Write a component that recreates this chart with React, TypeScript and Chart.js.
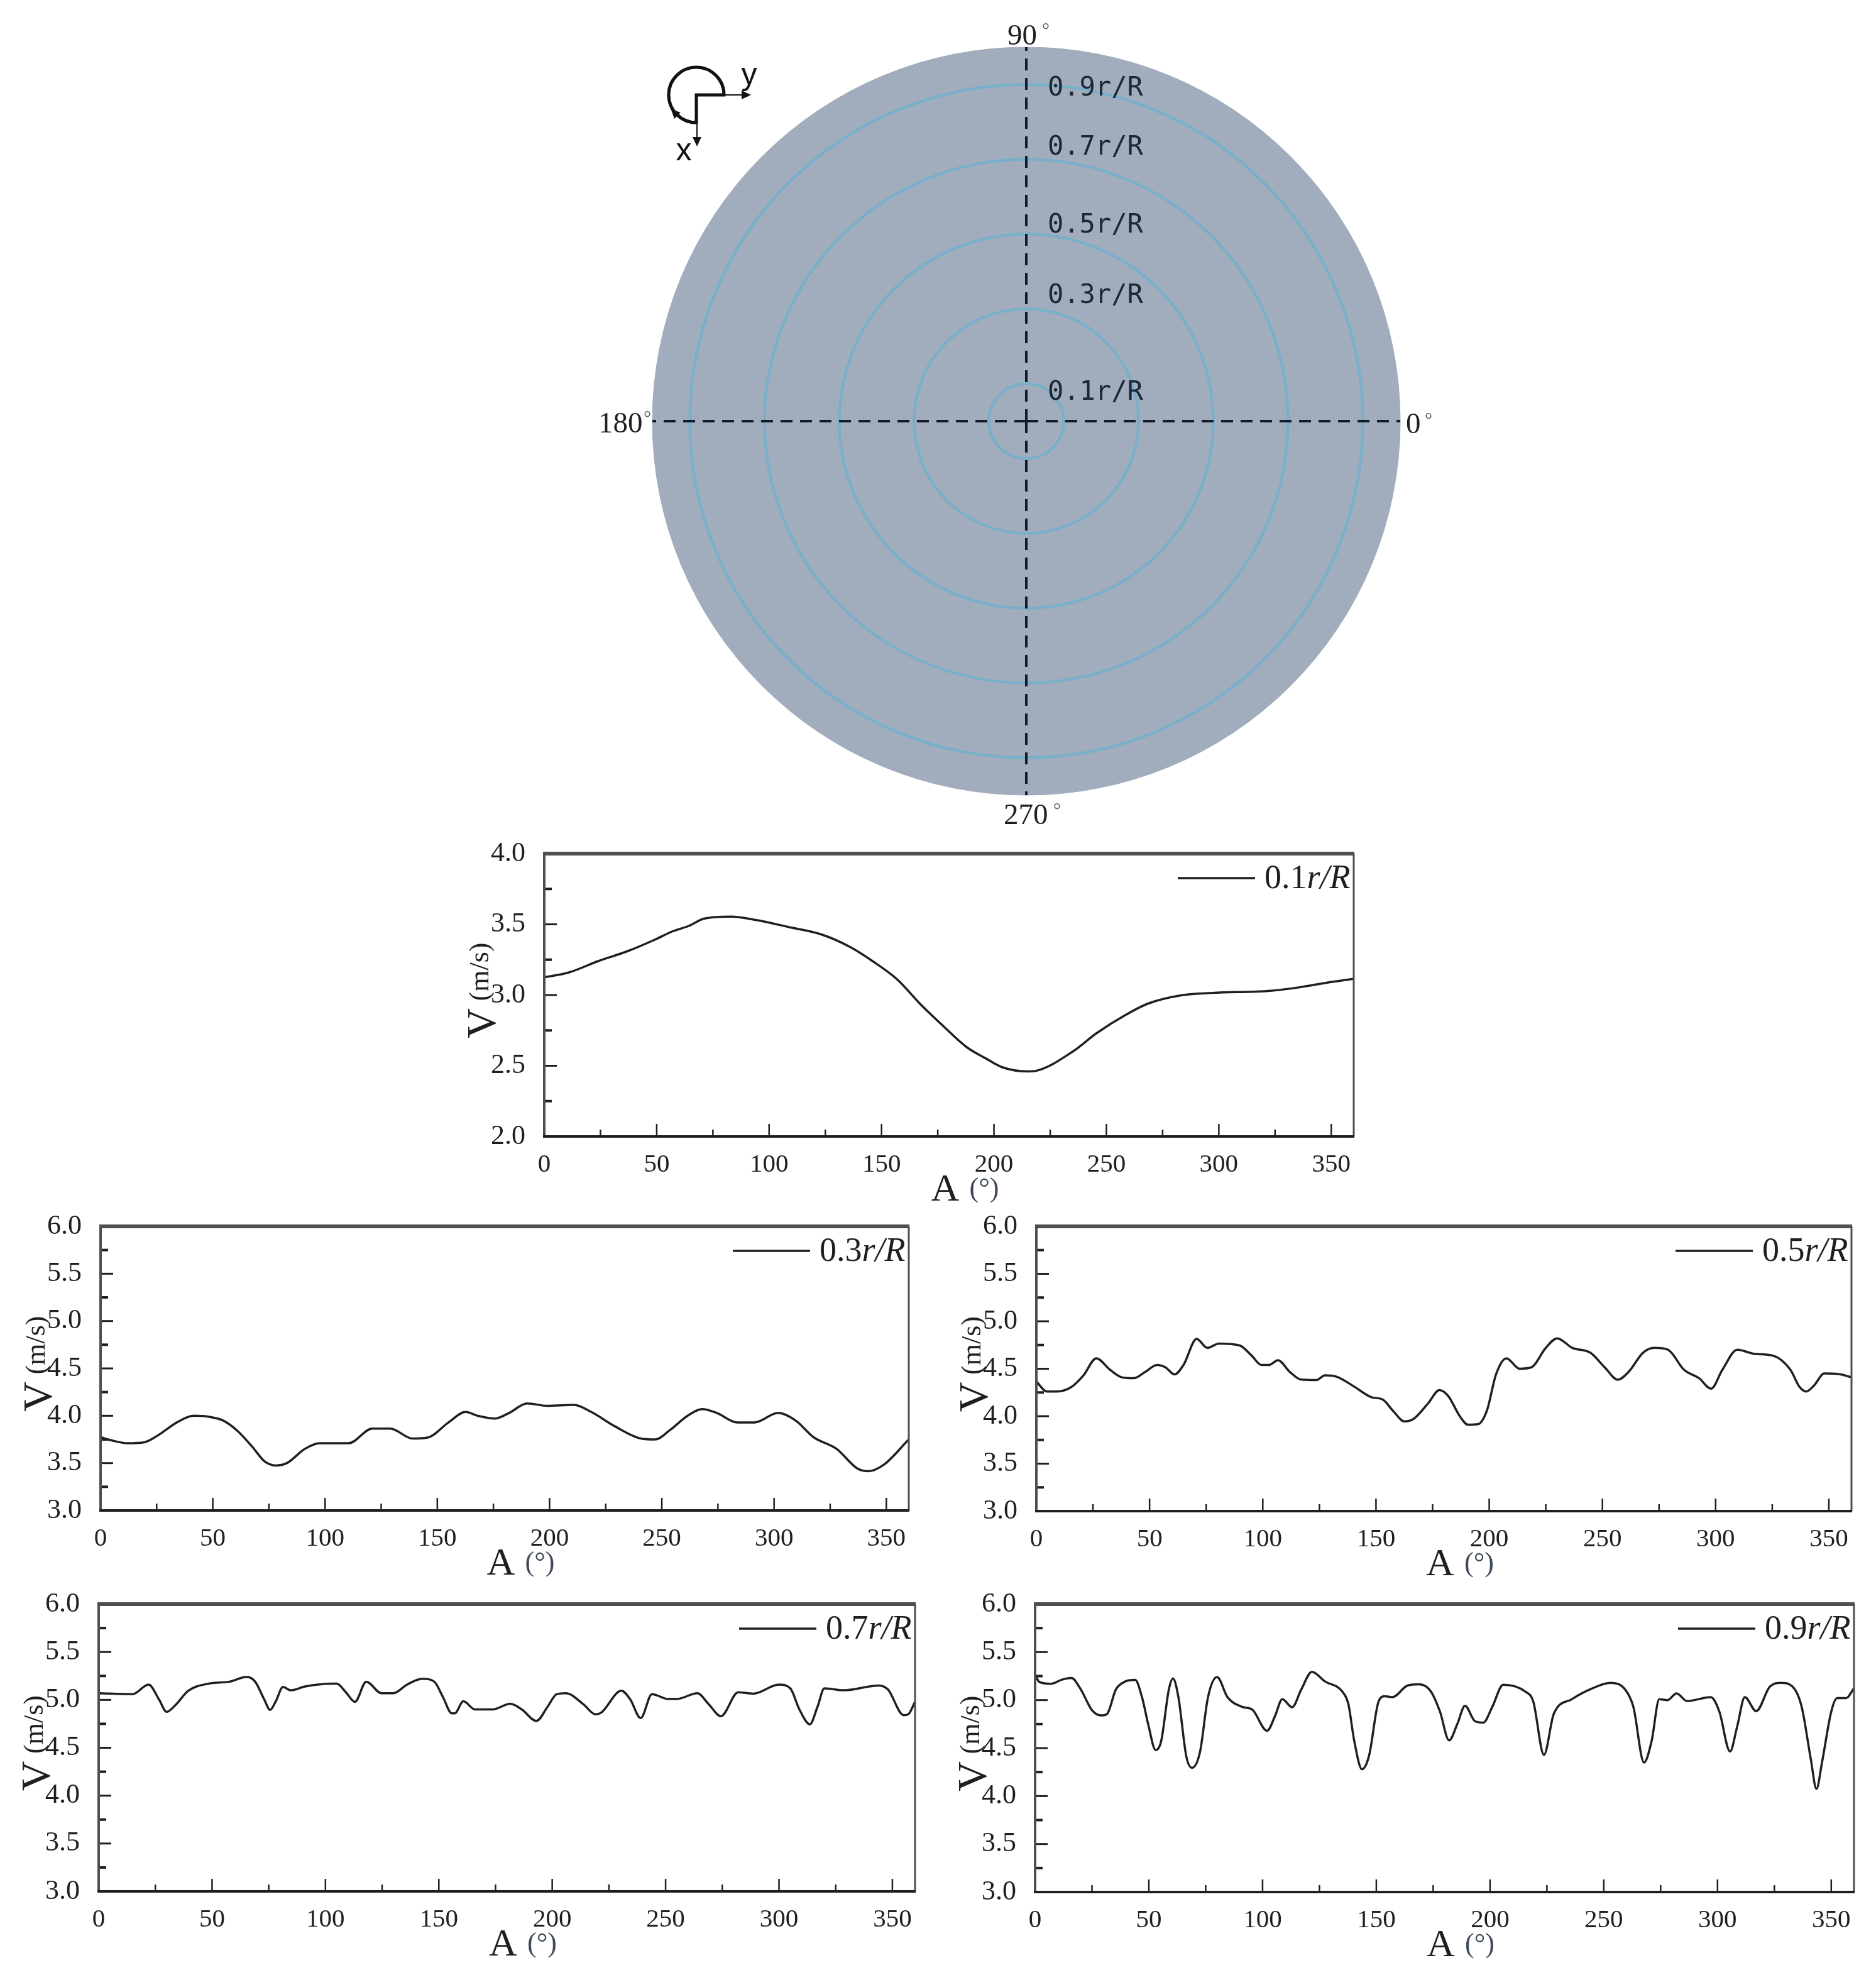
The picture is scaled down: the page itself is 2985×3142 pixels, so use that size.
import Chart from 'chart.js/auto'
import { useEffect, useRef } from 'react'

const SERIF = '"Liberation Serif"'
const INK = '#1f1f1f'
const FRAME = '#4f4f4f'

const ringRadii = [0.1, 0.3, 0.5, 0.7, 0.9]
const ringNames = ['0.1r/R', '0.3r/R', '0.5r/R', '0.7r/R', '0.9r/R']
const compassLabels = ['90°', '0°', '270°', '180°']
const discSlices = [1, 1, 1, 1]

const xTicks = [0, 50, 100, 150, 200, 250, 300, 350]
const xMinorTicks = [25, 75, 125, 175, 225, 275, 325]
const yTicksLow = [2, 2.5, 3, 3.5, 4]
const yMinorLow = [2.25, 2.75, 3.25, 3.75]
const yTicksHigh = [3, 3.5, 4, 4.5, 5, 5.5, 6]
const yMinorHigh = [3.25, 3.75, 4.25, 4.75, 5.25, 5.75]

const angles01 = [0, 11, 24, 37, 49, 57, 64.5, 71, 83, 94.4, 109, 123, 136, 146, 157, 167, 177.5, 188, 196, 203.6, 215, 219, 235, 245.6, 258.6, 268.6, 284, 297, 323, 336, 349, 360]
const speed01 = [3.125, 3.16, 3.24, 3.31, 3.39, 3.45, 3.49, 3.54, 3.555, 3.53, 3.48, 3.43, 3.34, 3.24, 3.11, 2.94, 2.78, 2.63, 2.555, 2.49, 2.46, 2.465, 2.6, 2.73, 2.86, 2.94, 3, 3.015, 3.03, 3.055, 3.09, 3.115]

const angles03 = [0, 5, 12, 19.5, 26, 34, 41.6, 48, 54.6, 61, 67.7, 73, 78, 83, 91, 97.6, 110.6, 121, 129, 139, 145.7, 155, 162.6, 168, 175.6, 182, 190, 199, 210.8, 218.6, 229, 240.7, 247, 253.7, 261.5, 268, 274.5, 283.6, 291.4, 301.8, 309.6, 317.5, 327.9, 337, 342, 348.7, 360]
const speed03 = [3.775, 3.74, 3.71, 3.72, 3.8, 3.93, 4, 3.99, 3.95, 3.84, 3.67, 3.52, 3.475, 3.5, 3.65, 3.71, 3.71, 3.865, 3.865, 3.76, 3.77, 3.93, 4.04, 4, 3.97, 4.03, 4.13, 4.105, 4.115, 4.04, 3.89, 3.76, 3.75, 3.85, 4, 4.07, 4.03, 3.93, 3.93, 4.03, 3.95, 3.775, 3.65, 3.445, 3.415, 3.48, 3.75]

const angles05 = [0, 4.7, 9, 15.6, 20.8, 26.5, 32.5, 37.7, 43, 48, 53.3, 57, 61, 65, 70.8, 75.5, 80.7, 89.8, 95, 99.4, 102.8, 106.7, 112, 117, 123.6, 127.5, 132.7, 140.5, 148, 153, 157.4, 162.6, 166.5, 173, 178, 182, 187, 190.7, 195, 199, 203, 207.6, 213.4, 218.6, 225, 230, 236.7, 244.6, 251, 256.8, 261.5, 268, 273, 279, 286, 292.7, 298, 303, 309.6, 317.5, 325, 333, 337, 340, 343.5, 348, 354, 360]
const speed05 = [4.365, 4.26, 4.26, 4.31, 4.43, 4.61, 4.49, 4.41, 4.4, 4.465, 4.54, 4.515, 4.44, 4.54, 4.815, 4.72, 4.765, 4.745, 4.64, 4.54, 4.54, 4.59, 4.465, 4.385, 4.38, 4.43, 4.415, 4.31, 4.2, 4.175, 4.06, 3.945, 3.97, 4.135, 4.275, 4.21, 4, 3.91, 3.915, 4.06, 4.44, 4.61, 4.5, 4.515, 4.72, 4.82, 4.72, 4.67, 4.515, 4.385, 4.465, 4.67, 4.72, 4.7, 4.49, 4.4, 4.29, 4.49, 4.7, 4.655, 4.64, 4.49, 4.31, 4.26, 4.325, 4.45, 4.445, 4.41]

const angles07 = [0, 15, 22, 26.6, 30, 34, 39.5, 48.5, 57.6, 65.3, 69, 73, 75.6, 78, 81.3, 84.7, 91, 102.7, 105, 109, 113, 118, 124.7, 130, 136, 142.7, 148, 151.8, 155.7, 157, 160.8, 166, 173.7, 181.5, 186.6, 193, 198, 202, 206, 213.7, 219, 221.5, 230.5, 234.4, 239, 244, 251, 255, 264, 269, 274.4, 282, 288.6, 300, 305, 309, 313.6, 317, 320, 328.6, 344, 348, 355, 357, 360]
const speed07 = [5.07, 5.06, 5.16, 5.005, 4.875, 4.95, 5.095, 5.17, 5.19, 5.24, 5.19, 5.005, 4.895, 4.98, 5.135, 5.1, 5.14, 5.17, 5.17, 5.08, 4.98, 5.19, 5.07, 5.07, 5.16, 5.22, 5.19, 5.03, 4.86, 4.86, 4.985, 4.9, 4.9, 4.96, 4.9, 4.78, 4.93, 5.06, 5.07, 4.955, 4.85, 4.865, 5.095, 5.005, 4.81, 5.06, 5.01, 5.01, 5.07, 4.955, 4.83, 5.08, 5.065, 5.16, 5.12, 4.9, 4.745, 4.93, 5.12, 5.1, 5.15, 5.11, 4.84, 4.85, 4.98]

const angles09 = [0, 1.8, 7, 12, 16, 20, 25, 29, 31.6, 35.5, 39.3, 44, 47, 49.7, 53, 55.4, 58.8, 60.6, 63, 66.5, 69, 72.5, 76, 80, 84.6, 91, 95.5, 102, 105.4, 108.7, 113, 117, 121.7, 127.4, 135, 137.7, 140.3, 143.7, 146.8, 151, 153.8, 157, 163.6, 168.8, 174, 178, 182, 185.6, 189, 193.4, 197, 201, 205.8, 215.4, 219, 223.7, 228, 236, 243.8, 253, 259.4, 263, 267.7, 271, 274.4, 278, 282, 286.6, 297, 300.8, 305.5, 308.6, 312, 317, 323, 328, 333, 337, 341, 343.5, 346, 350, 352.6, 356.5, 360]
const speed09 = [5.27, 5.19, 5.17, 5.215, 5.23, 5.115, 4.895, 4.84, 4.855, 5.11, 5.19, 5.21, 5.03, 4.75, 4.48, 4.57, 5.11, 5.225, 5.03, 4.41, 4.295, 4.46, 5.03, 5.24, 5.03, 4.93, 4.9, 4.68, 4.83, 5.01, 4.925, 5.11, 5.295, 5.195, 5.09, 4.96, 4.575, 4.28, 4.42, 4.985, 5.04, 5.03, 5.15, 5.165, 5.09, 4.88, 4.58, 4.75, 4.94, 4.78, 4.765, 4.93, 5.16, 5.09, 4.985, 4.43, 4.855, 5.01, 5.11, 5.18, 5.11, 4.93, 4.35, 4.57, 5.01, 5, 5.07, 4.99, 5.03, 4.88, 4.465, 4.72, 5.03, 4.885, 5.14, 5.18, 5.14, 4.93, 4.385, 4.075, 4.36, 4.88, 5.02, 5.02, 5.125]

type PanelProps = {
  name: string
  left: number
  top: number
  right: number
  bottom: number
  angles: number[]
  speed: number[]
  yMin: number
  yMax: number
  yTicks: number[]
  yMinor: number[]
}

const PAD_LEFT = 150
const PAD_RIGHT = 30
const PAD_TOP = 30
const PAD_BOTTOM = 125

const LinePanel = ({ name, left, top, right, bottom, angles, speed, yMin, yMax, yTicks, yMinor }: PanelProps): JSX.Element => {
  const canvas = useRef<HTMLCanvasElement | null>(null)

  useEffect(() => {
    if (!canvas.current) return

    const decor = {
      id: 'decor',
      afterDatasetsDraw(chart: Chart) {
        const { ctx, chartArea: a, scales } = chart
        ctx.save()
        ctx.strokeStyle = INK

        // ticks point inwards
        const tick = (x1: number, y1: number, x2: number, y2: number, w: number) => {
          ctx.lineWidth = w
          ctx.beginPath()
          ctx.moveTo(x1, y1)
          ctx.lineTo(x2, y2)
          ctx.stroke()
        }
        xTicks.forEach((v) => tick(scales.x.getPixelForValue(v), a.bottom, scales.x.getPixelForValue(v), a.bottom - 20, 2.5))
        xMinorTicks.forEach((v) => tick(scales.x.getPixelForValue(v), a.bottom, scales.x.getPixelForValue(v), a.bottom - 11, 2.5))
        yTicks.forEach((v) => tick(a.left, scales.y.getPixelForValue(v), a.left + 20, scales.y.getPixelForValue(v), 3))
        yMinor.forEach((v) => tick(a.left, scales.y.getPixelForValue(v), a.left + 12, scales.y.getPixelForValue(v), 4))

        // frame, the top edge is heavier in the source
        ctx.strokeStyle = FRAME
        tick(a.left, a.top, a.left, a.bottom, 4)
        tick(a.right, a.top, a.right, a.bottom, 3)
        tick(a.left - 2, a.top, a.right + 1, a.top, 6)
        ctx.strokeStyle = INK
        tick(a.left - 2, a.bottom, a.right + 1, a.bottom, 4)

        // legend
        tick(a.right - 280, a.top + 39, a.right - 157, a.top + 39, 3.5)
        ctx.fillStyle = INK
        ctx.textBaseline = 'middle'
        ctx.textAlign = 'left'
        const value = name.slice(0, 3)
        ctx.font = `54px ${SERIF}`
        const lx = a.right - 142
        ctx.fillText(value, lx, a.top + 41)
        const vw = ctx.measureText(value).width
        ctx.font = `italic 54px ${SERIF}`
        ctx.fillText(name.slice(3), lx + vw, a.top + 41)

        // axis titles
        const cx = (a.left + a.right) / 2
        ctx.textAlign = 'center'
        ctx.font = `62px ${SERIF}`
        ctx.fillText('A', cx - 6, a.bottom + 86)
        ctx.fillStyle = '#3f4a58'
        ctx.font = `44px ${SERIF}`
        ctx.fillText('(°)', cx + 56, a.bottom + 84)

        ctx.fillStyle = INK
        const cy = (a.top + a.bottom) / 2
        ctx.translate(a.left - 95, cy + 45)
        ctx.rotate(-Math.PI / 2)
        ctx.font = `66px ${SERIF}`
        ctx.fillText('V', 0, 0)
        ctx.font = `44px ${SERIF}`
        ctx.fillText('(m/s)', 82, -6)
        ctx.restore()
      },
    }

    const chart = new Chart(canvas.current, {
      type: 'scatter',
      data: {
        datasets: [
          {
            label: name,
            data: angles.map((a, i) => ({ x: a, y: speed[i] })),
            showLine: true,
            borderColor: INK,
            borderWidth: 3.5,
            pointRadius: 0,
            cubicInterpolationMode: 'monotone',
          },
        ],
      },
      options: {
        animation: false,
        responsive: false,
        devicePixelRatio: 1,
        layout: { padding: { top: PAD_TOP, right: PAD_RIGHT } },
        plugins: { legend: { display: false }, tooltip: { enabled: false } },
        scales: {
          x: {
            type: 'linear',
            min: 0,
            max: 360,
            grid: { display: false },
            border: { display: false },
            afterFit: (s) => {
              s.height = PAD_BOTTOM
              s.paddingLeft = 0
              s.paddingRight = 0
            },
            afterBuildTicks: (s) => {
              s.ticks = xTicks.map((value) => ({ value }))
            },
            ticks: {
              autoSkip: false,
              maxRotation: 0,
              padding: 13,
              color: INK,
              font: { family: SERIF, size: 41 },
              callback: (v) => String(v),
            },
          },
          y: {
            type: 'linear',
            min: yMin,
            max: yMax,
            grid: { display: false },
            border: { display: false },
            afterFit: (s) => {
              s.width = PAD_LEFT
              s.paddingTop = 0
              s.paddingBottom = 0
            },
            afterBuildTicks: (s) => {
              s.ticks = yTicks.map((value) => ({ value }))
            },
            ticks: {
              autoSkip: false,
              padding: 22,
              color: INK,
              font: { family: SERIF, size: 44 },
              callback: (v) => Number(v).toFixed(1),
            },
          },
        },
      },
      plugins: [decor],
    })

    return () => {
      chart.destroy()
    }
  }, [])

  return (
    <canvas
      ref={canvas}
      width={right - left + PAD_LEFT + PAD_RIGHT}
      height={bottom - top + PAD_TOP + PAD_BOTTOM}
      style={{ position: 'absolute', left: left - PAD_LEFT, top: top - PAD_TOP }}
    />
  )
}

const POLAR_X = 940
const POLAR_W = 1400
const POLAR_H = 1340

const PolarPanel = (): JSX.Element => {
  const canvas = useRef<HTMLCanvasElement | null>(null)

  useEffect(() => {
    if (!canvas.current) return

    const decor = {
      id: 'decor',
      afterDraw(chart: Chart) {
        const { ctx } = chart
        ctx.save()
        ctx.textBaseline = 'middle'

        // ring names sit just right of the vertical line
        const ringLabelY = [625, 471, 359, 235, 141]
        ctx.fillStyle = '#1c2733'
        ctx.font = '42px "DejaVu Sans Mono"'
        ctx.textAlign = 'left'
        ringNames.forEach((t, i) => ctx.fillText(t, 1667 - POLAR_X, ringLabelY[i]))

        // compass labels, the degree sign is small and set apart
        const compass = (t: string, x: number, y: number, dx: number, dy: number) => {
          ctx.fillStyle = INK
          ctx.font = `47px ${SERIF}`
          ctx.fillText(t.slice(0, -1), x - POLAR_X, y)
          ctx.fillStyle = '#55585c'
          ctx.font = `30px ${SERIF}`
          ctx.fillText(t.slice(-1), x - POLAR_X + dx, y + dy)
        }
        compass(compassLabels[0], 1603, 59, 55, -10)
        compass(compassLabels[1], 2237, 677, 30, -8)
        compass(compassLabels[2], 1597, 1299, 79, -9)
        compass(compassLabels[3], 952, 676, 72, -10)

        // rotation sign in the corner
        const ox = 1108 - POLAR_X
        const oy = 151
        ctx.strokeStyle = '#111'
        ctx.fillStyle = '#111'
        ctx.lineWidth = 5
        ctx.beginPath()
        ctx.arc(ox, oy, 44, 0, Math.PI / 2, true)
        ctx.lineTo(ox, oy)
        ctx.closePath()
        ctx.stroke()
        ctx.lineWidth = 2
        ctx.beginPath()
        ctx.moveTo(ox + 44, oy)
        ctx.lineTo(ox + 75, oy)
        ctx.moveTo(ox + 1, oy + 44)
        ctx.lineTo(ox + 1, oy + 68)
        ctx.stroke()
        const arrow = (x: number, y: number, dx: number, dy: number) => {
          ctx.beginPath()
          ctx.moveTo(x + dx * 15, y + dy * 15)
          ctx.lineTo(x - dy * 7, y + dx * 7)
          ctx.lineTo(x + dy * 7, y - dx * 7)
          ctx.closePath()
          ctx.fill()
        }
        arrow(ox + 72, oy, 1, 0)
        arrow(ox + 1, oy + 67, 0, 1)
        arrow(ox - 30, oy + 33, -0.7, -0.7)
        ctx.textAlign = 'center'
        ctx.font = '50px "Liberation Sans"'
        ctx.fillText('y', ox + 84, oy - 30)
        ctx.fillText('x', ox - 20, oy + 90)
        ctx.restore()
      },
    }

    const chart = new Chart(canvas.current, {
      type: 'polarArea',
      data: {
        labels: compassLabels,
        datasets: [
          {
            data: discSlices,
            backgroundColor: '#a1acbc',
            borderColor: '#a1acbc',
            borderWidth: 1,
          },
        ],
      },
      options: {
        animation: false,
        responsive: false,
        devicePixelRatio: 1,
        layout: { padding: { left: 98, right: 111, top: 75, bottom: 74 } },
        plugins: { legend: { display: false }, tooltip: { enabled: false } },
        scales: {
          r: {
            min: 0,
            max: 1,
            afterBuildTicks: (s) => {
              s.ticks = [0, ...ringRadii].map((value) => ({ value }))
            },
            ticks: { display: false },
            pointLabels: { display: false },
            grid: { circular: true, color: '#78b0ca', lineWidth: 4.5, z: 1 },
            angleLines: { display: true, color: '#141a24', lineWidth: 4, borderDash: [19, 12] },
          },
        },
      },
      plugins: [decor],
    })

    return () => {
      chart.destroy()
    }
  }, [])

  return <canvas ref={canvas} width={POLAR_W} height={POLAR_H} style={{ position: 'absolute', left: POLAR_X, top: 0 }} />
}

export default function App(): JSX.Element {
  return (
    <div style={{ position: 'absolute', left: 0, top: 0, width: 2985, height: 3142, background: '#fff', overflow: 'hidden' }}>
      <PolarPanel />
      <LinePanel name="0.1r/R" left={866} top={1358} right={2154} bottom={1808} angles={angles01} speed={speed01} yMin={2} yMax={4} yTicks={yTicksLow} yMinor={yMinorLow} />
      <LinePanel name="0.3r/R" left={160} top={1951} right={1446} bottom={2403} angles={angles03} speed={speed03} yMin={3} yMax={6} yTicks={yTicksHigh} yMinor={yMinorHigh} />
      <LinePanel name="0.5r/R" left={1649} top={1951} right={2946} bottom={2404} angles={angles05} speed={speed05} yMin={3} yMax={6} yTicks={yTicksHigh} yMinor={yMinorHigh} />
      <LinePanel name="0.7r/R" left={157} top={2552} right={1456} bottom={3009} angles={angles07} speed={speed07} yMin={3} yMax={6} yTicks={yTicksHigh} yMinor={yMinorHigh} />
      <LinePanel name="0.9r/R" left={1647} top={2552} right={2950} bottom={3010} angles={angles09} speed={speed09} yMin={3} yMax={6} yTicks={yTicksHigh} yMinor={yMinorHigh} />
    </div>
  )
}
